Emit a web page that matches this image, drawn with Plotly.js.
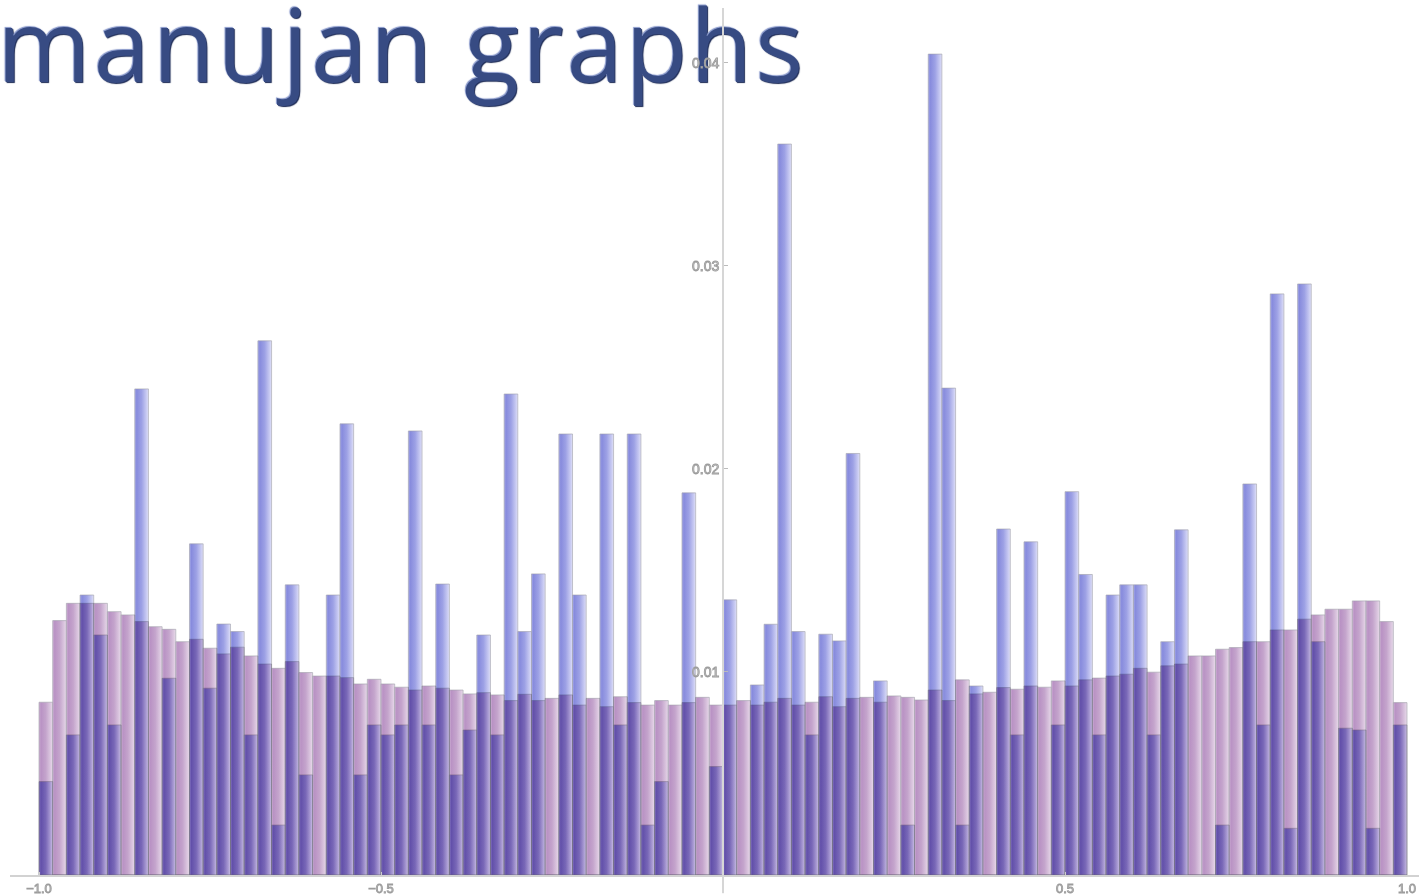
<!DOCTYPE html>
<html>
<head>
<meta charset="utf-8">
<script src="https://cdn.plot.ly/plotly-3.0.1.min.js"></script>
<style>
  html, body { margin: 0; padding: 0; background: #ffffff; }
  #chart { width: 1422px; height: 895px; }
  /* overlapping histogram bars darken each other like tinted glass */
  .barlayer .trace { mix-blend-mode: multiply; }
  /* outlined, embossed-looking tick numbers */
  .xtick text, .ytick text { stroke: #9c9c9c; stroke-width: 0.9px; }
  /* slightly open tracking for the heading */
  .annotation-text { letter-spacing: 3px; }
</style>
</head>
<body>
<div id="chart"></div>
<script>
// Histogram bins: 100 bins of width 0.02 covering [-1, 1]
const binStart = -1.0;
const binWidth = 0.02;

// Smooth spectral density (pink)
const densityPink = [
  0.00851, 0.01253, 0.01338, 0.01338, 0.01338, 0.01297, 0.01281, 0.01248, 0.01223, 0.01210,
  0.01149, 0.01161, 0.01117, 0.01089, 0.01122, 0.01079, 0.01039, 0.01018, 0.01051, 0.00997,
  0.00980, 0.00980, 0.00972, 0.00941, 0.00964, 0.00941, 0.00925, 0.00911, 0.00931, 0.00920,
  0.00911, 0.00892, 0.00898, 0.00887, 0.00859, 0.00890, 0.00859, 0.00870, 0.00887, 0.00837,
  0.00870, 0.00829, 0.00878, 0.00849, 0.00837, 0.00859, 0.00837, 0.00849, 0.00875, 0.00837,
  0.00837, 0.00859, 0.00837, 0.00851, 0.00870, 0.00837, 0.00851, 0.00878, 0.00829, 0.00870,
  0.00875, 0.00851, 0.00882, 0.00875, 0.00862, 0.00911, 0.00859, 0.00961, 0.00892, 0.00900,
  0.00923, 0.00915, 0.00931, 0.00925, 0.00956, 0.00931, 0.00961, 0.00970, 0.00980, 0.00989,
  0.01018, 0.00999, 0.01030, 0.01039, 0.01079, 0.01079, 0.01112, 0.01120, 0.01149, 0.01149,
  0.01207, 0.01207, 0.01260, 0.01281, 0.01309, 0.01309, 0.01350, 0.01350, 0.01248, 0.00849
];

// Eigenvalue histogram of the graph (blue)
const densityBlue = [
  0.00460, 0,       0.00690, 0.01379, 0.01182, 0.00739, 0,       0.02394, 0,       0.00969,
  0,       0.01631, 0.00920, 0.01236, 0.01199, 0.00690, 0.02631, 0.00246, 0.01429, 0.00493,
  0,       0.01379, 0.02222, 0.00493, 0.00739, 0.00690, 0.00739, 0.02187, 0.00739, 0.01433,
  0.00493, 0.00714, 0.01182, 0.00690, 0.02369, 0.01199, 0.01483, 0,       0.02172, 0.01379,
  0,       0.02172, 0.00739, 0.02172, 0.00246, 0.00460, 0,       0.01882, 0,       0.00534,
  0.01355, 0,       0.00936, 0.01235, 0.03600, 0.01199, 0.00690, 0.01186, 0.01153, 0.02076,
  0,       0.00956, 0,       0.00246, 0,       0.04043, 0.02398, 0.00246, 0.00931, 0,
  0.01704, 0.00690, 0.01641, 0,       0.00739, 0.01888, 0.01480, 0.00690, 0.01379, 0.01429,
  0.01429, 0.00690, 0.01149, 0.01700, 0,       0,       0.00246, 0,       0.01926, 0.00739,
  0.02862, 0.00230, 0.02911, 0.01149, 0,       0.00723, 0.00714, 0.00230, 0,       0.00739
];

const xTickVals = [-1.0, -0.5, 0.5, 1.0];
const yTickVals = [0.01, 0.02, 0.03, 0.04];

const binCenters = densityPink.map((_, i) => +(binStart + binWidth * (i + 0.5)).toFixed(4));

const xRange = [-1.0424, 1.0175];
const yRange = [0, 0.0427];
const yAxisPos = (0 - xRange[0]) / (xRange[1] - xRange[0]);

const edge = { color: 'rgba(160,160,170,0.75)', width: 0.8 };

const traces = [
  {
    type: 'bar', name: 'density', x: binCenters, y: densityPink,
    width: binWidth, marker: { color: '#c6a2cc', line: edge },
    hoverinfo: 'skip'
  },
  {
    type: 'bar', name: 'eigenvalues', x: binCenters, y: densityBlue,
    width: binWidth, marker: { color: '#989ce2', line: edge },
    hoverinfo: 'skip'
  }
];

const tickFont = { family: 'Liberation Sans, Arial, sans-serif', size: 13, color: '#dcdcdc' };

const layout = {
  width: 1422, height: 895,
  margin: { l: 10, r: 3, t: 8, b: 20, pad: 0 },
  paper_bgcolor: '#ffffff', plot_bgcolor: '#ffffff',
  barmode: 'overlay', bargap: 0,
  showlegend: false,
  xaxis: {
    range: xRange, domain: [0, 1],
    showline: true, linecolor: '#d2d2d2', linewidth: 2,
    showgrid: false, zeroline: false,
    tickvals: xTickVals, tickformat: '.1f',
    ticks: 'inside', ticklen: 3, tickcolor: '#cccccc',
    tickfont: tickFont
  },
  yaxis: {
    range: yRange, anchor: 'free', position: yAxisPos,
    showline: true, linecolor: '#d6d6d6', linewidth: 2,
    showgrid: false, zeroline: false,
    tickvals: yTickVals, tickformat: '.2f',
    ticks: 'inside', ticklen: 4, tickcolor: '#bbbbbb',
    tickfont: Object.assign({}, tickFont, { size: 14 })
  },
  shapes: [
    // the vertical axis continues a little below the horizontal one
    { type: 'line', xref: 'x', yref: 'paper', x0: 0, x1: 0, y0: -0.021, y1: 0,
      line: { color: '#d6d6d6', width: 2 } }
  ],
  annotations: [
    {
      text: 'manujan graphs', showarrow: false,
      xref: 'paper', yref: 'paper', x: -0.011, y: 1.041,
      xanchor: 'left', yanchor: 'top',
      font: {
        family: 'Open Sans, sans-serif', size: 101, color: '#374b83',
        shadow: '-1px -1px 1px #8595c8, 1px 1px 1px #1c2a55'
      }
    }
  ]
};

function addGradient(defs, id, stops) {
  const NS = 'http://www.w3.org/2000/svg';
  const g = document.createElementNS(NS, 'linearGradient');
  g.setAttribute('id', id);
  g.setAttribute('x1', '0'); g.setAttribute('x2', '1');
  g.setAttribute('y1', '0'); g.setAttribute('y2', '0');
  stops.forEach(([offset, color]) => {
    const s = document.createElementNS(NS, 'stop');
    s.setAttribute('offset', offset);
    s.setAttribute('stop-color', color);
    g.appendChild(s);
  });
  defs.appendChild(g);
}

// Give each bar a soft horizontal shading; keep the heading beneath the axes
function finishDrawing(gd) {
  const NS = 'http://www.w3.org/2000/svg';
  const svg = gd.querySelector('svg.main-svg');
  const defs = document.createElementNS(NS, 'defs');
  svg.insertBefore(defs, svg.firstChild);
  addGradient(defs, 'shadePink', [
    [0, '#d0b4d6'], [0.14, '#b992c4'], [0.5, '#c4a4cc'], [0.85, '#dcc8e0'], [1, '#e8dcea']
  ]);
  addGradient(defs, 'shadeBlue', [
    [0, '#a8ace8'], [0.14, '#878bdd'], [0.5, '#9da1e5'], [0.85, '#c8caf2'], [1, '#e0e1f7']
  ]);
  const layers = gd.querySelectorAll('.barlayer .trace');
  const ids = ['shadePink', 'shadeBlue'];
  layers.forEach((layer, k) => {
    layer.querySelectorAll('path').forEach(p => {
      p.style.fill = 'url(#' + ids[k] + ')';
    });
  });
  const heading = gd.querySelector('.annotation');
  const cart = svg.querySelector('.cartesianlayer');
  if (heading && cart) cart.parentNode.insertBefore(heading, cart);
}

const gd = document.getElementById('chart');
Plotly.newPlot(gd, traces, layout, { staticPlot: true, displayModeBar: false })
  .then(() => finishDrawing(gd));
</script>
</body>
</html>
